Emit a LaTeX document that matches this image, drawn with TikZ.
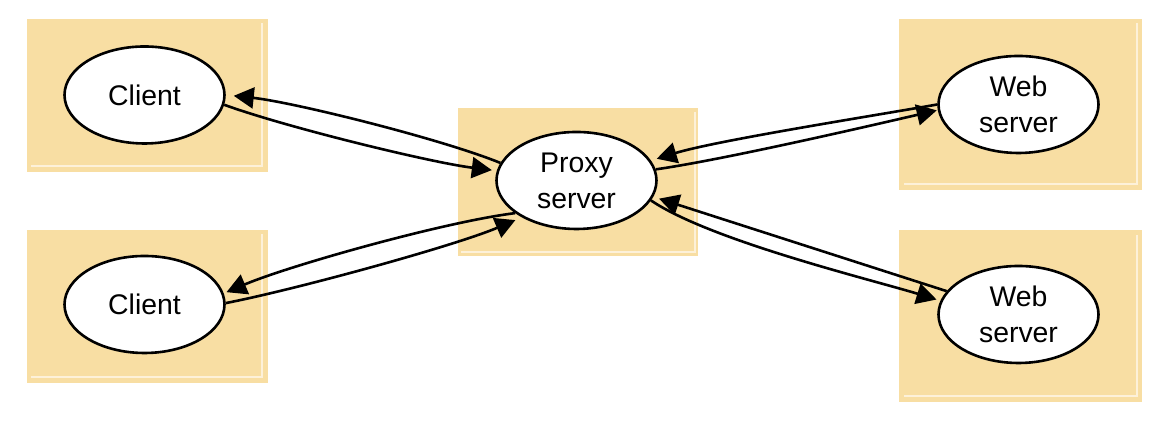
\documentclass[tikz,border=0pt]{standalone}
\usepackage{fontspec}
\setmainfont{Liberation Sans}
\usepackage{xcolor}
\usepackage{tikz}
\usetikzlibrary{shapes,arrows.meta}
\definecolor{boxtan}{HTML}{F8DEA3}
\definecolor{boxlite}{HTML}{FDF1D9}

\begin{document}
\begin{tikzpicture}[x=0.5pt, y=0.5pt,
    host/.style={fill=boxtan},
    hilite/.style={draw=boxlite, line width=1pt},
    machine/.style={draw, ellipse, line width=1.3pt, fill=white, minimum width=80pt, minimum height=48.5pt, inner sep=0pt, align=center, font=\fontsize{14.2}{18}\selectfont},
    link/.style={line width=1.3pt, looseness=0.6, -{Triangle[length=10pt,width=10.5pt]}}]
    \useasboundingbox (0,0) rectangle (1168,421);

    % Host boxes
    \fill[host] (27,249) rectangle (268,402);
    \draw[hilite] (31,255) -- (262,255) -- (262,398);
    \fill[host] (27,38) rectangle (268,191);
    \draw[hilite] (31,44) -- (262,44) -- (262,187);
    \fill[host] (458,165) rectangle (698,313);
    \draw[hilite] (461,168.5) -- (695,168.5) -- (695,309);
    \fill[host] (899,231) rectangle (1142,402);
    \draw[hilite] (904,237) -- (1136.5,237) -- (1136.5,398);
    \fill[host] (899,19) rectangle (1142,191);
    \draw[hilite] (904,24.5) -- (1136.5,24.5) -- (1136.5,186);

    % Machines
    \node[machine] at (144.5,326) (cl1) {Client};
    \node[machine] at (144.5,116.5) (cl2) {Client};
    \node[machine] at (576.5,240.5) (px) {Proxy\\server};
    \node[machine] at (1018.5,316.5) (web1) {Web\\server};
    \node[machine] at (1018.5,106.5) (web2) {Web\\server};

    % Clients <-> proxy
    \draw[link, shorten >=4pt] (px.167) to[out=158,in=-6] (cl1.0);
    \draw[link, shorten >=2.5pt] (cl1.-7) to[out=-20,in=173] (px.173);
    \draw[link, shorten >=1.5pt] (px.208) to[out=187,in=23] (cl2.8);
    \draw[link, shorten >=3.5pt] (cl2.1) to[out=11,in=203] (px.214);

    % Proxy <-> web servers
    \draw[link, shorten >=3pt] (web1.180) to[out=190,in=17] (px.15);
    \draw[link, shorten >=0.5pt] (px.8) to[out=8,in=193] (web1.184);
    \draw[link, shorten >=3pt] (web2.162) -- (px.-12);
    \draw[link, shorten >=2pt] (px.-15) to[out=-34,in=163] (web2.170);
\end{tikzpicture}
\end{document}
